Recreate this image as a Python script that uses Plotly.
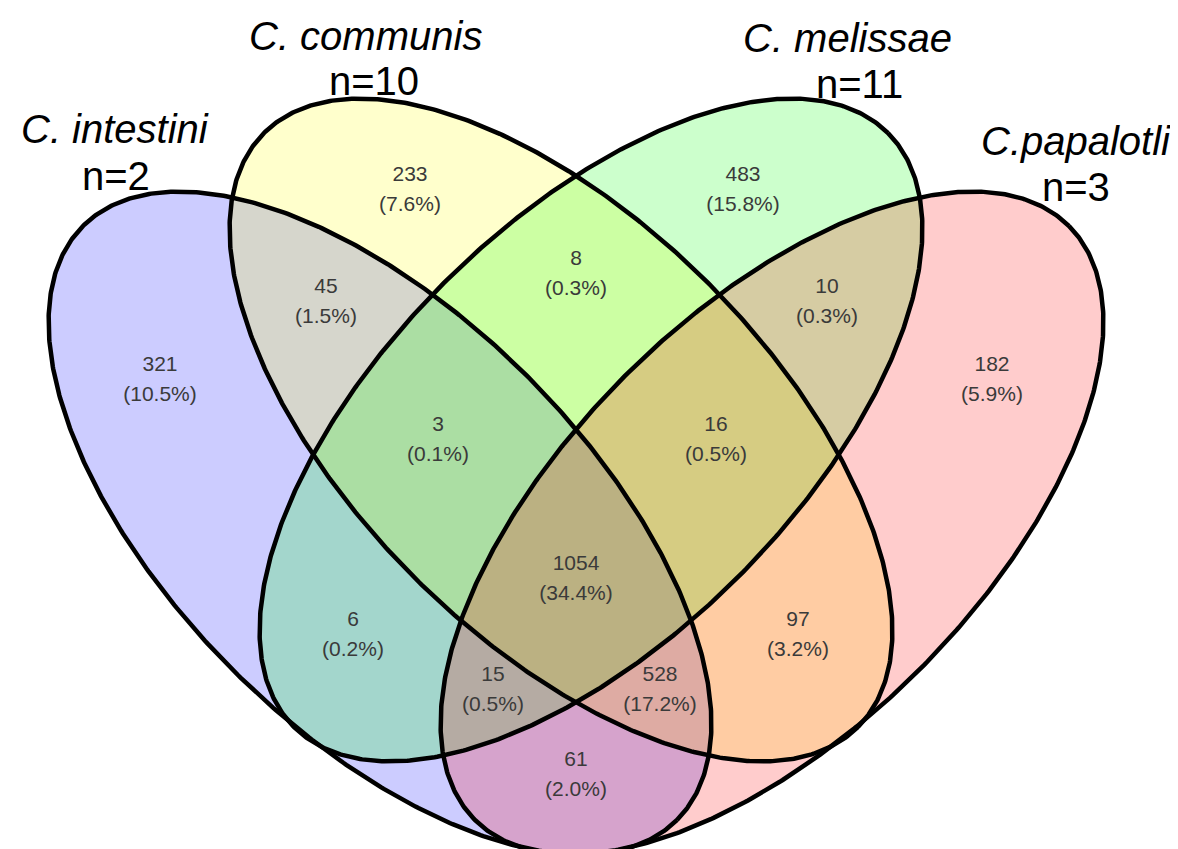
import numpy as np
import plotly.graph_objects as go

# ---------------- data ----------------
set_names = ["C. intestini", "C. communis", "C. melissae", "C.papalotli"]
set_sizes = [2, 10, 11, 3]

# regions: membership code, count, percentage
region_sets = ["B", "Y", "G", "P", "BY", "YG", "GP", "BYG", "YGP",
               "BYGP", "BG", "YP", "BGP", "BYP", "BP"]
region_counts = [321, 233, 483, 182, 45, 8, 10, 3, 16, 1054, 6, 97, 15, 528, 61]
region_pcts = [10.5, 7.6, 15.8, 5.9, 1.5, 0.3, 0.3, 0.1, 0.5, 34.4, 0.2, 3.2, 0.5, 17.2, 2.0]

# ---------------- layout / style constants ----------------
W, H = 1178, 849
fill_colors = ["rgba(0,0,255,0.2)", "rgba(255,255,0,0.2)",
               "rgba(0,255,0,0.2)", "rgba(255,0,0,0.2)"]
ell_centers = [(372, 515), (553, 422), (583, 422), (764, 515)]
ell_angles = [45, 45, -45, -45]
ell_a, ell_b = 420, 208

label_pos = {
    "B": (152, 358), "Y": (402, 168), "G": (735, 168), "P": (984, 358),
    "BY": (318, 280), "YG": (568, 252), "GP": (819, 280),
    "BYG": (430, 418), "YGP": (708, 418), "BYGP": (568, 557),
    "BG": (345, 613), "YP": (790, 613), "BGP": (485, 668),
    "BYP": (652, 668), "BP": (568, 753),
}
pct_offset = 30

title_pos = [((107, 121), (108, 168)), ((357, 28), (366, 73)),
             ((839, 30), (851, 76)), ((1068, 133), (1068, 179))]

fig = go.Figure()

t = np.linspace(0, 2 * np.pi, 721)
paths = []
for (cx, cy), ang in zip(ell_centers, ell_angles):
    phi = np.deg2rad(ang)
    u = ell_a * np.cos(t)
    v = ell_b * np.sin(t)
    x = cx + u * np.cos(phi) - v * np.sin(phi)
    y = cy + u * np.sin(phi) + v * np.cos(phi)
    paths.append((x, y))

for (x, y), col, name in zip(paths, fill_colors, set_names):
    fig.add_trace(go.Scatter(x=x, y=y, mode="lines", fill="toself",
                             fillcolor=col, line=dict(width=0),
                             hoverinfo="skip", showlegend=False, name=name))
for (x, y) in paths:
    fig.add_trace(go.Scatter(x=x, y=y, mode="lines",
                             line=dict(color="black", width=4.5),
                             hoverinfo="skip", showlegend=False))

lx = [label_pos[r][0] for r in region_sets]
ly = [label_pos[r][1] for r in region_sets]
label_font = dict(family="Liberation Sans, Arial, sans-serif", size=21, color="#3a3a3a")
fig.add_trace(go.Scatter(x=lx, y=ly, mode="text",
                         text=[str(c) for c in region_counts],
                         textfont=label_font, textposition="middle center",
                         hoverinfo="skip", showlegend=False))
fig.add_trace(go.Scatter(x=lx, y=[v + pct_offset for v in ly], mode="text",
                         text=[f"({p:.1f}%)" for p in region_pcts],
                         textfont=label_font, textposition="middle center",
                         hoverinfo="skip", showlegend=False))

title_font = dict(family="Liberation Sans, Arial, sans-serif", size=40, color="black")
for name, n, (p1, p2) in zip(set_names, set_sizes, title_pos):
    fig.add_annotation(x=p1[0], y=p1[1], text=f"<i>{name}</i>", showarrow=False,
                       font=title_font, xanchor="center", yanchor="middle")
    fig.add_annotation(x=p2[0], y=p2[1], text=f"n={n}", showarrow=False,
                       font=title_font, xanchor="center", yanchor="middle")

fig.update_layout(
    width=W, height=H, margin=dict(l=0, r=0, t=0, b=0),
    paper_bgcolor="white", plot_bgcolor="white",
    xaxis=dict(range=[0, W], visible=False, fixedrange=True),
    yaxis=dict(range=[H, 0], visible=False, fixedrange=True),
)
fig.write_html("out.html")
